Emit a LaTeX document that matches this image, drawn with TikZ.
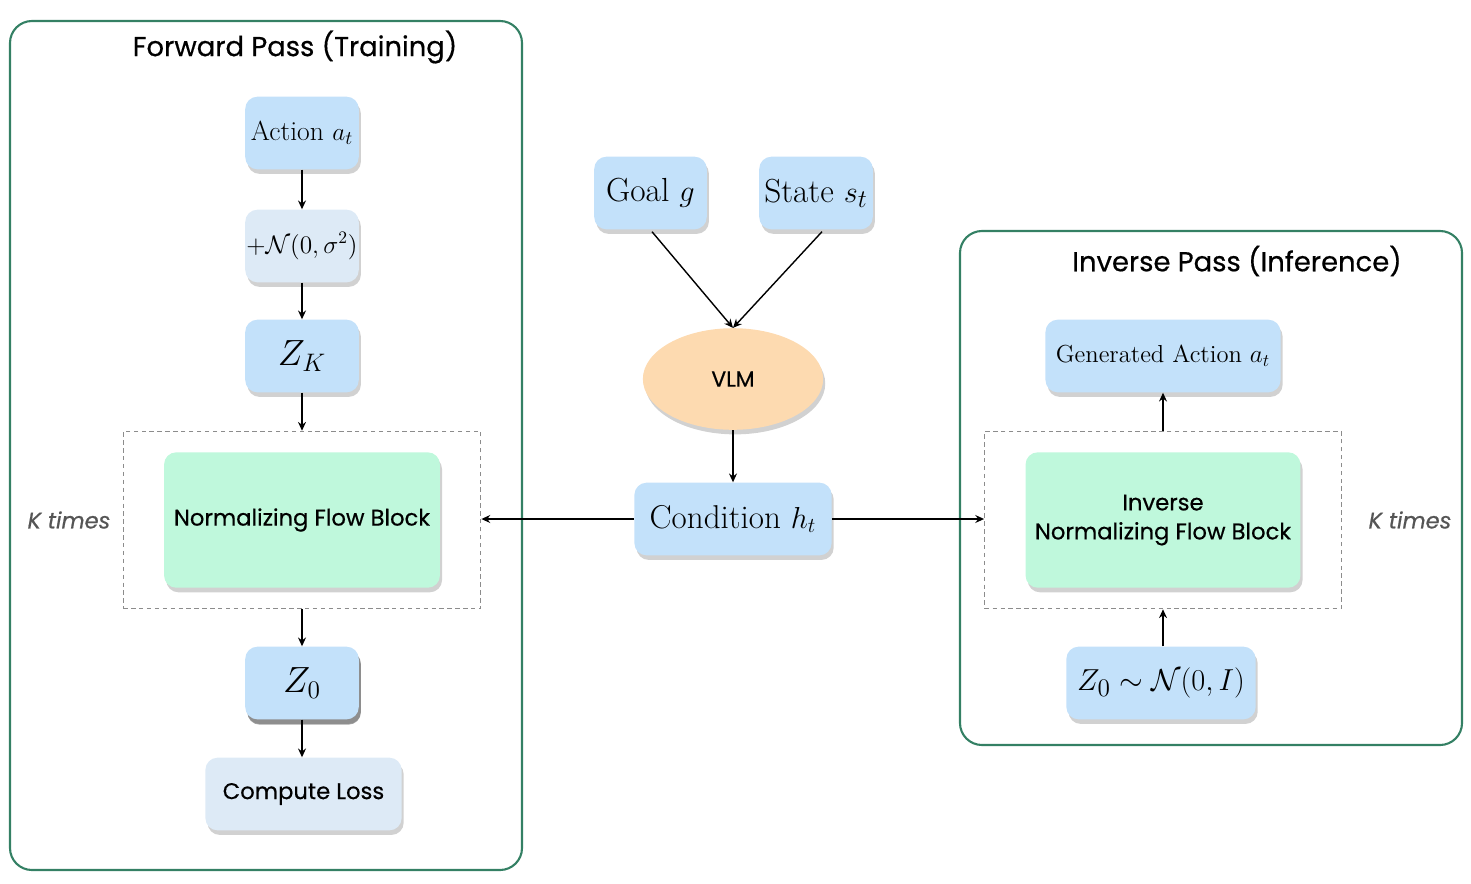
\documentclass[tikz,border=0pt]{standalone}
\usepackage{fontspec}
\setsansfont{Poppins}[UprightFeatures={FakeBold=0.5},ItalicFeatures={FakeBold=0.5}]
\usetikzlibrary{shadows,shapes.geometric,arrows.meta}
\definecolor{panelgreen}{RGB}{52,128,100}
\definecolor{bluefill}{RGB}{195,225,250}
\definecolor{paleblue}{RGB}{221,234,246}
\definecolor{mintfill}{RGB}{191,248,220}
\definecolor{peach}{RGB}{253,218,176}
\definecolor{ktext}{RGB}{85,85,85}
\definecolor{dashgrey}{RGB}{140,140,140}
\tikzset{
  panel/.style={draw=panelgreen, line width=1.2pt, rounded corners=12.5pt},
  softshadow/.style={drop shadow={shadow xshift=1.2pt, shadow yshift=-2.6pt, opacity=0.3, fill=black!60}},
  card/.style={rounded corners=7pt, inner sep=0pt, anchor=center, softshadow},
  bluecard/.style={card, fill=bluefill},
  palecard/.style={card, fill=paleblue},
  mintcard/.style={card, fill=mintfill},
  loopbox/.style={draw=dashgrey, line width=0.7pt, dash pattern=on 2.5pt off 2pt, inner sep=0pt},
  conn/.style={-{Stealth[length=5pt,width=4.5pt]}, line width=0.8pt, black},
  titletext/.style={font=\sffamily\fontsize{15.6}{19}\selectfont},
  ktimes/.style={font=\sffamily\itshape\fontsize{12.8}{15}\selectfont, text=ktext},
  sftext/.style={font=\sffamily\fontsize{12.9}{16.5}\selectfont},
}
\begin{document}
\begin{tikzpicture}[x=0.02cm,y=-0.02cm]
\useasboundingbox (0,0) rectangle (1471,883);
% panels
\draw[panel] (10,21) rectangle (522,870);
\draw[panel] (960,231) rectangle (1462,745);
\node[titletext] (tl) at (295,47) {Forward Pass (Training)};
\node[titletext] (tr) at (1237,261) {Inverse Pass (Inference)};
% left column
\node[bluecard, minimum width=114*0.5669pt, minimum height=73*0.5669pt, font=\fontsize{15.7}{18}\selectfont] (act) at (302,133) {Action $a_t$};
\node[palecard, minimum width=114*0.5669pt, minimum height=73*0.5669pt, font=\fontsize{14.3}{16}\selectfont] (noise) at (302,246) {$+\mathcal{N}(0,\sigma^2)$};
\node[bluecard, minimum width=114*0.5669pt, minimum height=73*0.5669pt, font=\fontsize{21}{23}\selectfont] (zk) at (302,356) {$Z_K$};
\node[loopbox, minimum width=359*0.5669pt, minimum height=178*0.5669pt] (dl) at (302,520) {};
\node[mintcard, minimum width=277*0.5669pt, minimum height=136*0.5669pt, sftext] (nf) at (302,520) {Normalizing Flow Block};
\node[bluecard, minimum width=114*0.5669pt, minimum height=73*0.5669pt, font=\fontsize{22}{24}\selectfont,
  drop shadow={shadow xshift=1.2pt, shadow yshift=-3pt, opacity=0.5, fill=black!70}] (z0) at (302,683) {$Z_0$};
\node[palecard, minimum width=197*0.5669pt, minimum height=73*0.5669pt, sftext] (loss) at (303.5,794) {Compute Loss};
\node[ktimes] (kl) at (69,520) {K times};
% middle column
\node[bluecard, minimum width=113*0.5669pt, minimum height=73*0.5669pt, font=\fontsize{19}{21}\selectfont] (goal) at (650.5,193) {Goal $g$};
\node[bluecard, minimum width=114*0.5669pt, minimum height=73*0.5669pt, font=\fontsize{19}{21}\selectfont] (state) at (816,193) {State $s_t$};
\node[ellipse, fill=peach, minimum width=181*0.5669pt, minimum height=102*0.5669pt, inner sep=0pt,
  softshadow, font=\sffamily\fontsize{12.5}{14}\selectfont] (vlm) at (733,379) {VLM};
\node[bluecard, minimum width=198*0.5669pt, minimum height=73*0.5669pt, font=\fontsize{18.8}{21}\selectfont] (cond) at (733,519) {Condition $h_t$};
% right column
\node[bluecard, minimum width=236*0.5669pt, minimum height=73*0.5669pt, font=\fontsize{14}{16}\selectfont] (gen) at (1163,356) {Generated Action $a_t$};
\node[loopbox, minimum width=358*0.5669pt, minimum height=178*0.5669pt] (dr) at (1163,520) {};
\node[mintcard, minimum width=276*0.5669pt, minimum height=136*0.5669pt, align=center, sftext] (inf) at (1163,520) {Inverse\\Normalizing Flow Block};
\node[bluecard, minimum width=190*0.5669pt, minimum height=73*0.5669pt, font=\fontsize{18.9}{21}\selectfont] (zn) at (1161,683) {$Z_0\sim\mathcal{N}(0,I)$};
\node[ktimes] (kr) at (1410,520) {K times};
% connectors
\coordinate (goalout) at ([xshift=1.5*0.5669pt,yshift=-2*0.5669pt]goal.south);
\coordinate (stateout) at ([xshift=6*0.5669pt,yshift=-2*0.5669pt]state.south);
\draw[conn] (act.south) -- (noise.north);
\draw[conn] (noise.south) -- (zk.north);
\draw[conn] (zk.south) -- (dl.north);
\draw[conn] (dl.south) -- (z0.north);
\draw[conn] (z0.south) -- (loss.north -| z0.south);
\draw[conn] (goalout) -- (vlm.north);
\draw[conn] (stateout) -- (vlm.north);
\draw[conn] (vlm.south) -- (cond.north);
\draw[conn] (cond.west) -- (cond.west -| dl.east);
\draw[conn] (cond.east) -- (cond.east -| dr.west);
\draw[conn] (dr.north) -- (gen.south);
\draw[conn] (zn.north -| dr.north) -- (dr.south);
\end{tikzpicture}
\end{document}
